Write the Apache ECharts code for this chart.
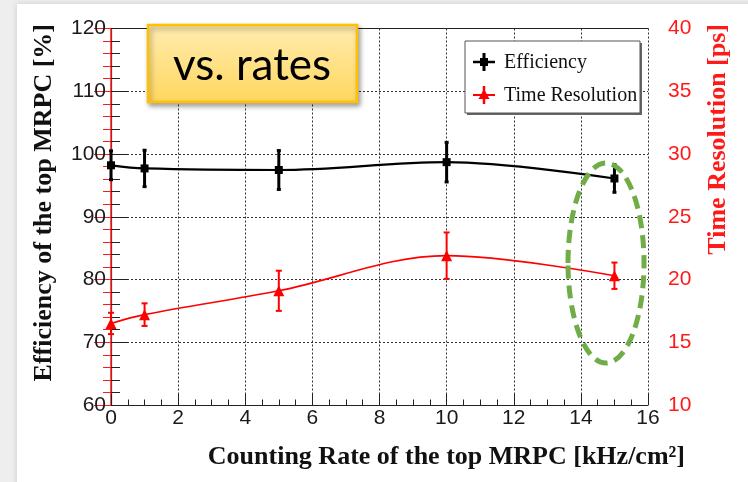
<!DOCTYPE html>
<html>
<head>
<meta charset="utf-8">
<script src="https://cdn.jsdelivr.net/npm/echarts@6/dist/echarts.min.js"></script>
<style>
  html, body { margin: 0; padding: 0; background: #fff; }
  #main { width: 748px; height: 482px; }
</style>
</head>
<body>
<div id="main"></div>
<script>
// values
var rates = [0, 1, 5, 10, 15];
var efficiency = [98.2, 97.7, 97.45, 98.7, 96.1];
var efficiencyErr = [2.3, 2.9, 3.1, 3.15, 2.2];
var timeRes = [16.5, 17.2, 19.1, 21.9, 20.3];
var timeResErr = [0.85, 0.9, 1.6, 1.85, 1.05];

var myChart = echarts.init(document.getElementById("main"));

function pairs(xs, ys) {
  return xs.map(function (x, i) { return [x, ys[i]]; });
}
function triples(xs, ys, es) {
  return xs.map(function (x, i) { return [x, ys[i], es[i]]; });
}

// vertical error bar with small caps
function errorBar(color, width, cap) {
  return function (params, api) {
    var x = api.value(0), y = api.value(1), e = api.value(2);
    var top = api.coord([x, y + e]);
    var bot = api.coord([x, y - e]);
    var st = { stroke: color, lineWidth: width };
    return {
      type: "group",
      children: [
        { type: "line", shape: { x1: top[0], y1: top[1], x2: bot[0], y2: bot[1] }, style: st },
        { type: "line", shape: { x1: top[0] - cap, y1: top[1], x2: top[0] + cap, y2: top[1] }, style: st },
        { type: "line", shape: { x1: bot[0] - cap, y1: bot[1], x2: bot[0] + cap, y2: bot[1] }, style: st }
      ]
    };
  };
}

var labelFont = { fontFamily: "Liberation Sans", fontSize: 21 };
var gridDots = { show: true, lineStyle: { color: "#333", type: [2, 2], width: 1 } };

var option = {
  backgroundColor: "#eeeeee",
  animation: false,
  grid: { left: 111, top: 28.5, right: 100, bottom: 77 },
  xAxis: [
    {
      type: "value",
      min: 0,
      max: 16,
      interval: 2,
      axisLine: { show: true, lineStyle: { color: "#222", width: 1.2 } },
      axisTick: { inside: true, length: 11, lineStyle: { color: "#222" } },
      minorTick: { show: true, splitNumber: 4, length: 5.5, lineStyle: { color: "#222" } },
      axisLabel: Object.assign({ color: "#1a1a1a", margin: 3 }, labelFont),
      splitLine: gridDots
    },
    {
      type: "value",
      position: "top",
      min: 0,
      max: 16,
      interval: 2,
      axisLine: { show: true, lineStyle: { color: "#222", width: 1.2 } },
      axisTick: { show: false },
      axisLabel: { show: false },
      splitLine: { show: false }
    }
  ],
  yAxis: [
    {
      type: "value",
      min: 60,
      max: 120,
      interval: 10,
      axisLine: { show: true, lineStyle: { color: "#222", width: 1.2 } },
      axisTick: { show: true, inside: true, length: 17, lineStyle: { color: "#222" } },
      minorTick: { show: true, splitNumber: 5, length: 9, lineStyle: { color: "#222" } },
      axisLabel: Object.assign({ color: "#1a1a1a", margin: 5 }, labelFont),
      splitLine: gridDots
    },
    {
      type: "value",
      position: "right",
      offset: 17,
      min: 10,
      max: 40,
      interval: 5,
      axisLine: { show: true, lineStyle: { color: "#ff1a1a", width: 1.5 } },
      axisTick: { show: true, inside: true, length: 17, lineStyle: { color: "#ff1a1a" } },
      minorTick: { show: true, splitNumber: 5, length: 8, lineStyle: { color: "#ff1a1a" } },
      axisLabel: Object.assign({ color: "#ff1a1a", margin: 3 }, labelFont),
      splitLine: { show: false }
    }
  ],
  series: [
    {
      name: "Efficiency",
      type: "line",
      data: pairs(rates, efficiency),
      smooth: 0.35,
      symbol: "rect",
      symbolSize: 8,
      itemStyle: { color: "#000" },
      lineStyle: { color: "#000", width: 2.2 },
      z: 5
    },
    {
      name: "EfficiencyErr",
      type: "custom",
      data: triples(rates, efficiency, efficiencyErr),
      encode: { x: 0, y: 1 },
      renderItem: errorBar("#000", 3, 2),
      z: 4
    },
    {
      name: "Time Resolution",
      type: "line",
      yAxisIndex: 1,
      data: pairs(rates, timeRes),
      smooth: 0.35,
      symbol: "triangle",
      symbolSize: 11,
      itemStyle: { color: "#ff0000" },
      lineStyle: { color: "#ff0000", width: 1.6 },
      z: 5
    },
    {
      name: "TimeResErr",
      type: "custom",
      yAxisIndex: 1,
      data: triples(rates, timeRes, timeResErr),
      encode: { x: 0, y: 1 },
      renderItem: errorBar("#ff0000", 2, 3),
      z: 4
    }
  ],
  graphic: [
    // slide page
    {
      type: "rect",
      shape: { x: 17, y: 4, width: 740, height: 490 },
      style: { fill: "#fff", shadowBlur: 6, shadowColor: "rgba(0,0,0,0.15)" },
      z: -10,
      silent: true
    },
    // axis titles
    {
      type: "text",
      x: 44, y: 24, rotation: Math.PI / 2,
      style: {
        text: "Efficiency of the top MRPC [%]",
        font: "bold 26px 'Liberation Serif'",
        fill: "#111", align: "right", verticalAlign: "middle"
      }
    },
    {
      type: "text",
      x: 718, y: 24, rotation: Math.PI / 2,
      style: {
        text: "Time Resolution [ps]",
        font: "bold 26px 'Liberation Serif'",
        fill: "#ff1a1a", align: "right", verticalAlign: "middle"
      }
    },
    {
      type: "text",
      x: 685, y: 457,
      style: {
        text: "Counting Rate of the top MRPC [kHz/cm\u00b2]",
        font: "bold 26px 'Liberation Serif'",
        fill: "#111", align: "right", verticalAlign: "middle"
      }
    },
    // legend box
    {
      type: "rect",
      shape: { x: 467, y: 43, width: 175, height: 72 },
      style: { fill: "#666" },
      z: 20
    },
    {
      type: "rect",
      shape: { x: 465, y: 41, width: 175, height: 72 },
      style: { fill: "#fff", stroke: "#555", lineWidth: 1 },
      z: 21
    },
    { type: "line", shape: { x1: 473, y1: 62, x2: 495, y2: 62 }, style: { stroke: "#000", lineWidth: 2.5 }, z: 22 },
    { type: "line", shape: { x1: 484, y1: 53, x2: 484, y2: 71 }, style: { stroke: "#000", lineWidth: 3 }, z: 22 },
    { type: "rect", shape: { x: 480, y: 58, width: 8, height: 8 }, style: { fill: "#000" }, z: 22 },
    {
      type: "text", x: 504, y: 63, z: 22,
      style: { text: "Efficiency", font: "20px 'Liberation Serif'", fill: "#111", verticalAlign: "middle" }
    },
    { type: "line", shape: { x1: 473, y1: 95, x2: 495, y2: 95 }, style: { stroke: "#ff0000", lineWidth: 2 }, z: 22 },
    { type: "line", shape: { x1: 484, y1: 86, x2: 484, y2: 104 }, style: { stroke: "#ff0000", lineWidth: 2.5 }, z: 22 },
    { type: "polygon", shape: { points: [[484, 89], [489.5, 99], [478.5, 99]] }, style: { fill: "#ff0000" }, z: 22 },
    {
      type: "text", x: 504, y: 96, z: 22,
      style: { text: "Time Resolution", font: "20px 'Liberation Serif'", fill: "#111", verticalAlign: "middle" }
    },
    // "vs. rates" callout
    {
      type: "rect",
      shape: { x: 148, y: 25, width: 209, height: 77 },
      style: {
        fill: new echarts.graphic.LinearGradient(0, 0, 0, 1, [
          { offset: 0, color: "#ffecb0" },
          { offset: 1, color: "#ffd75e" }
        ]),
        stroke: "#ffc000",
        lineWidth: 2.5,
        shadowBlur: 5,
        shadowOffsetX: 2,
        shadowOffsetY: 3,
        shadowColor: "rgba(0,0,0,0.35)"
      },
      z: 30
    },
    {
      type: "text", x: 252, y: 66, z: 31,
      style: { text: "vs. rates", font: "44px Lato", fill: "#000", align: "center", verticalAlign: "middle" }
    },
    // green dashed ellipse
    {
      type: "ellipse",
      shape: { cx: 606, cy: 263, rx: 38, ry: 100 },
      style: { fill: "none", stroke: "#70ad47", lineWidth: 5, lineDash: [13, 7] },
      z: 40
    }
  ]
};

myChart.setOption(option);
</script>
</body>
</html>
